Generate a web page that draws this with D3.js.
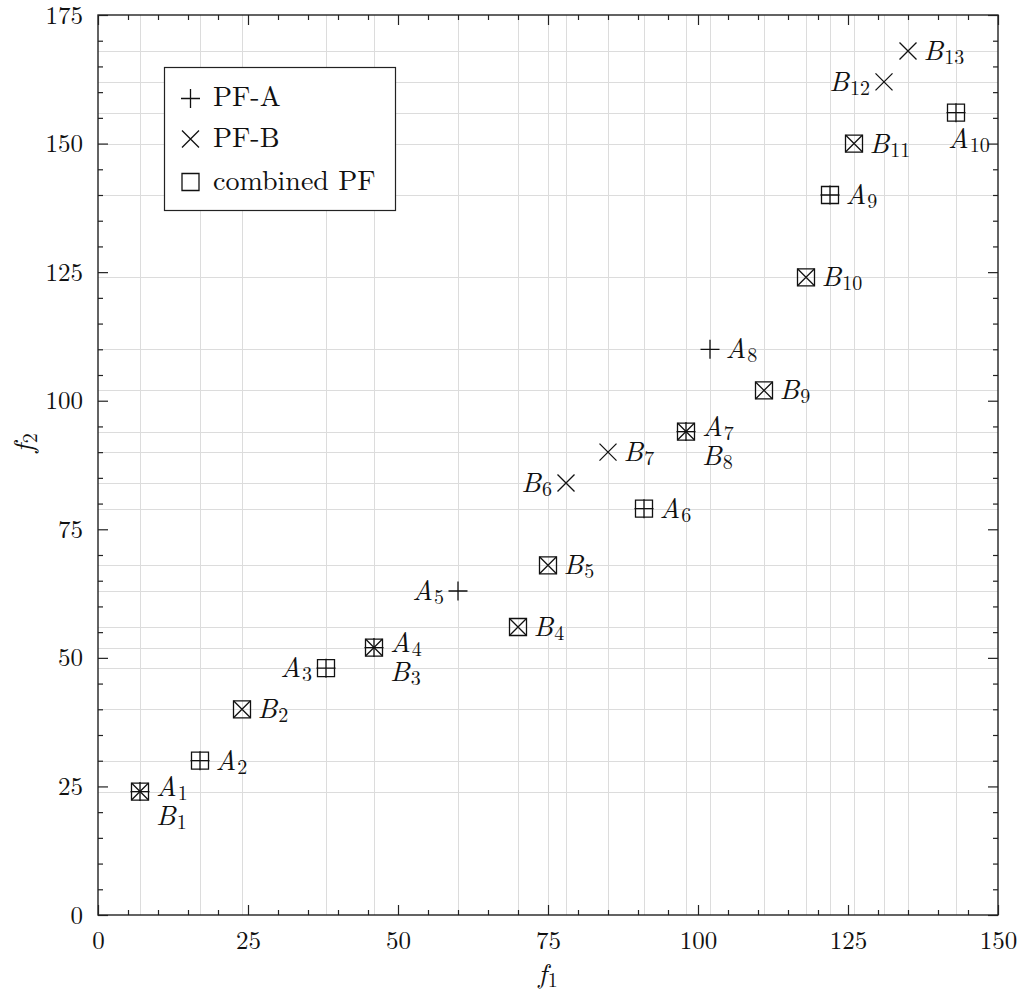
<!DOCTYPE html>
<html>
<head>
<meta charset="utf-8">
<script src="https://cdn.jsdelivr.net/npm/d3@7"></script>
<style>
  html, body { margin: 0; padding: 0; background: #fff; }
  svg { display: block; }
</style>
</head>
<body>
<svg id="chart" width="1019" height="993"></svg>
<script>
// Pareto fronts in objective space (f1, f2)
const pfA = [[7,24],[17,30],[38,48],[46,52],[60,63],[91,79],[98,94],[102,110],[122,140],[143,156]];
const pfB = [[7,24],[24,40],[46,52],[70,56],[75,68],[78,84],[85,90],[98,94],[111,102],[118,124],[126,150],[131,162],[135,168]];
const combinedPF = [[7,24],[17,30],[24,40],[38,48],[46,52],[70,56],[75,68],[91,79],[98,94],[111,102],[118,124],[122,140],[126,150],[143,156]];

const namesA = ["1","2","3","4","5","6","7","8","9","10"];
const namesB = ["1","2","3","4","5","6","7","8","9","10","11","12","13"];

const xMajorTicks = [0, 25, 50, 75, 100, 125, 150];
const yMajorTicks = [0, 25, 50, 75, 100, 125, 150, 175];
const legendLabels = ["PF-A", "PF-B", "combined PF"];

// ---- layout ----
const FONT = "'Latin Modern Roman', 'Liberation Serif', serif";
const INK = "#111";
const svg = d3.select("#chart");
const L = 98, R = 998, T = 15, B = 915;
const x = d3.scaleLinear().domain([0, 150]).range([L, R]);
const y = d3.scaleLinear().domain([0, 175]).range([B, T]);

// label placement: which side of the marker each name goes
const sideA = {"3": "left", "5": "left", "10": "below"};
const sideB = {"6": "left", "12": "left"};

// ---- grid at every objective value that occurs ----
const allPts = pfA.concat(pfB, combinedPF);
const gridX = Array.from(new Set(allPts.map(d => d[0]))).sort((a, b) => a - b);
const gridY = Array.from(new Set(allPts.map(d => d[1]))).sort((a, b) => a - b);

const grid = svg.append("g").attr("stroke", "#dcdcdc").attr("stroke-width", 1);
grid.selectAll("line.gx").data(gridX).join("line")
  .attr("class", "gx")
  .attr("x1", d => Math.round(x(d)) + 0.5).attr("x2", d => Math.round(x(d)) + 0.5)
  .attr("y1", T).attr("y2", B);
grid.selectAll("line.gy").data(gridY).join("line")
  .attr("class", "gy")
  .attr("y1", d => Math.round(y(d)) + 0.5).attr("y2", d => Math.round(y(d)) + 0.5)
  .attr("x1", L).attr("x2", R);

// ---- axes with inward ticks on all four sides ----
const minorX = d3.range(0, 151, 5).filter(v => v % 25 !== 0);
const minorY = d3.range(0, 176, 5).filter(v => v % 25 !== 0);

function styleAxis(g) {
  g.select(".domain").remove();
  g.selectAll(".tick line").attr("stroke", "#222").attr("stroke-width", 1.2);
  g.selectAll(".tick text")
    .style("font-family", FONT).style("font-size", "25px").style("fill", INK);
}

svg.append("g").attr("transform", `translate(0,${B})`)
  .call(d3.axisBottom(x).tickValues(xMajorTicks).tickSize(-10).tickPadding(16).tickFormat(d3.format("d")))
  .call(styleAxis);
svg.append("g").attr("transform", `translate(0,${B})`)
  .call(d3.axisBottom(x).tickValues(minorX).tickSize(-5).tickFormat(""))
  .call(styleAxis);
svg.append("g").attr("transform", `translate(0,${T})`)
  .call(d3.axisTop(x).tickValues(xMajorTicks).tickSize(-10).tickFormat(""))
  .call(styleAxis);
svg.append("g").attr("transform", `translate(0,${T})`)
  .call(d3.axisTop(x).tickValues(minorX).tickSize(-5).tickFormat(""))
  .call(styleAxis);

svg.append("g").attr("transform", `translate(${L},0)`)
  .call(d3.axisLeft(y).tickValues(yMajorTicks).tickSize(-10).tickPadding(15).tickFormat(d3.format("d")))
  .call(styleAxis);
svg.append("g").attr("transform", `translate(${L},0)`)
  .call(d3.axisLeft(y).tickValues(minorY).tickSize(-5).tickFormat(""))
  .call(styleAxis);
svg.append("g").attr("transform", `translate(${R},0)`)
  .call(d3.axisRight(y).tickValues(yMajorTicks).tickSize(-10).tickFormat(""))
  .call(styleAxis);
svg.append("g").attr("transform", `translate(${R},0)`)
  .call(d3.axisRight(y).tickValues(minorY).tickSize(-5).tickFormat(""))
  .call(styleAxis);

// frame
svg.append("rect")
  .attr("x", L).attr("y", T).attr("width", R - L).attr("height", B - T)
  .attr("fill", "none").attr("stroke", "#222").attr("stroke-width", 1.4);

// ---- markers ----
const plusPath = "M-9.5,0H9.5M0,-9.5V9.5";
const crossPath = "M-8.5,-8.5L8.5,8.5M-8.5,8.5L8.5,-8.5";
const squarePath = "M-8.5,-8.5H8.5V8.5H-8.5Z";

const marks = svg.append("g").attr("fill", "none").attr("stroke", INK).attr("stroke-width", 1.3);
marks.selectAll("path.sq").data(combinedPF).join("path")
  .attr("class", "sq").attr("d", squarePath)
  .attr("transform", d => `translate(${x(d[0])},${y(d[1])})`);
marks.selectAll("path.pa").data(pfA).join("path")
  .attr("class", "pa").attr("d", plusPath)
  .attr("transform", d => `translate(${x(d[0])},${y(d[1])})`);
marks.selectAll("path.pb").data(pfB).join("path")
  .attr("class", "pb").attr("d", crossPath)
  .attr("transform", d => `translate(${x(d[0])},${y(d[1])})`);

// ---- point names (italic letter with upright subscript) ----
const SIZE = 28, SUB = Math.round(SIZE * 0.7);

function addMath(t, letter, sub, lineX, lineDy) {
  const a = t.append("tspan").style("font-style", "italic").text(letter);
  if (lineX !== undefined) a.attr("x", lineX).attr("dy", lineDy);
  t.append("tspan").attr("dx", 1).attr("dy", 4).style("font-size", SUB + "px").text(sub);
}

function mathText(g, letter, sub) {
  const t = g.append("text")
    .style("font-family", FONT).style("font-size", SIZE + "px").style("fill", INK);
  addMath(t, letter, sub);
  return t;
}

const labels = svg.append("g");
const key = d => d[0] + "," + d[1];
const bIndex = new Map(pfB.map((d, i) => [key(d), i]));
const shared = new Set();

pfA.forEach((d, i) => {
  const px = x(d[0]), py = y(d[1]);
  const j = bIndex.get(key(d));
  if (j !== undefined) {
    // point on both fronts: two-line name, A above B
    shared.add(j);
    const t = labels.append("text").attr("x", px + 16).attr("y", py + 4)
      .style("font-family", FONT).style("font-size", SIZE + "px").style("fill", INK);
    addMath(t, "A", namesA[i]);
    addMath(t, "B", namesB[j], px + 16, 25);   // +4 from the subscript gives a 29px line step
    return;
  }
  const side = sideA[namesA[i]] || "right";
  const t = mathText(labels, "A", namesA[i]);
  if (side === "left") t.attr("x", px - 14).attr("y", py + 9).attr("text-anchor", "end");
  else if (side === "below") t.attr("x", px - 8).attr("y", py + 35);
  else t.attr("x", px + 15.5).attr("y", py + 9);
});

pfB.forEach((d, j) => {
  if (shared.has(j)) return;
  const px = x(d[0]), py = y(d[1]);
  const side = sideB[namesB[j]] || "right";
  const t = mathText(labels, "B", namesB[j]);
  if (side === "left") t.attr("x", px - 14).attr("y", py + 9).attr("text-anchor", "end");
  else t.attr("x", px + 15.5).attr("y", py + 9);
});

// ---- axis titles ----
mathText(svg, "f", "1").attr("x", x(75)).attr("y", 983).attr("text-anchor", "middle");
mathText(svg, "f", "2").attr("text-anchor", "middle")
  .attr("transform", `translate(33,443) rotate(-90)`);

// ---- legend ----
const lg = svg.append("g");
lg.append("rect").attr("x", 164.5).attr("y", 67.5).attr("width", 231).attr("height", 143)
  .attr("fill", "#fff").attr("stroke", "#222").attr("stroke-width", 1.2);
const legendPaths = [plusPath, crossPath, squarePath];
const rowY = [98.5, 139, 182];
legendLabels.forEach((lab, i) => {
  lg.append("path").attr("d", legendPaths[i])
    .attr("transform", `translate(190.5,${rowY[i]})`)
    .attr("fill", "none").attr("stroke", INK).attr("stroke-width", 1.3);
  lg.append("text").attr("x", 213).attr("y", rowY[i] + 7.5)
    .style("font-family", FONT).style("font-size", "28px").style("fill", INK)
    .text(lab);
});
</script>
</body>
</html>
